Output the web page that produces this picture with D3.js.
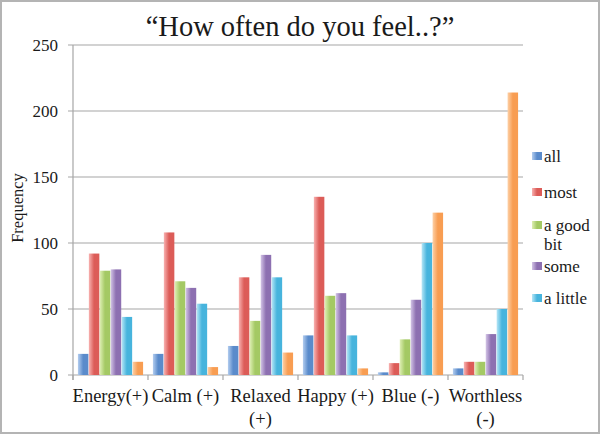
<!DOCTYPE html>
<html>
<head>
<meta charset="utf-8">
<script src="https://cdn.jsdelivr.net/npm/d3@7"></script>
<style>
  body { margin: 0; background: #fff; }
  text { font-family: "Liberation Serif", "Times New Roman", serif; fill: #1a1a1a; }
</style>
</head>
<body>
<svg id="chart" width="600" height="434"></svg>
<script>
// chart data
var categories = [["Energy(+)"], ["Calm (+)"], ["Relaxed", "(+)"], ["Happy (+)"], ["Blue (-)"], ["Worthless", "(-)"]];
var seriesNames = ["all", "most", "a good bit", "some", "a little", "none"];
var allVals    = [16, 16, 22, 30, 2, 5];
var mostVals   = [92, 108, 74, 135, 9, 10];
var goodVals   = [79, 71, 41, 60, 27, 10];
var someVals   = [80, 66, 91, 62, 57, 31];
var littleVals = [44, 54, 74, 30, 100, 50];
var noneVals   = [10, 6, 17, 5, 123, 214];
var yTicks = [0, 50, 100, 150, 200, 250];

var series = [allVals, mostVals, goodVals, someVals, littleVals, noneVals];
var colors = [["#b3cdef", "#5a8bcb"], ["#f8b2b1", "#dc5c58"], ["#deefb4", "#a4c964"],
              ["#d3c4e6", "#8d70b1"], ["#b6e6f6", "#47b4dd"], ["#fdd0a6", "#f89d52"]];

var svg = d3.select("#chart");
var pl = 73, pr = 523, pt = 45, pb = 375;

// frame
svg.append("rect").attr("x", 1).attr("y", 1).attr("width", 598).attr("height", 432)
  .attr("fill", "#fff").attr("stroke", "#b4b4b4").attr("stroke-width", 2);

var defs = svg.append("defs");
colors.forEach(function(c, i) {
  var g = defs.append("linearGradient").attr("id", "grad" + i)
    .attr("x1", "0").attr("x2", "1").attr("y1", "0").attr("y2", "0");
  g.append("stop").attr("offset", "0%").attr("stop-color", c[0]);
  g.append("stop").attr("offset", "50%").attr("stop-color", c[1]);
  g.append("stop").attr("offset", "100%").attr("stop-color", c[1]);
});

var x0 = d3.scaleBand().domain(d3.range(categories.length)).range([pl, pr]).paddingInner(0).paddingOuter(0);
var x1 = d3.scaleBand().domain(d3.range(series.length)).range([0, x0.bandwidth()]).paddingInner(0.04).paddingOuter(0.45);
var y = d3.scaleLinear().domain([0, 250]).range([pb, pt]);

// gridlines
svg.append("g").selectAll("line").data(yTicks).enter().append("line")
  .attr("x1", pl - 5).attr("x2", pr).attr("y1", function(d) { return y(d); }).attr("y2", function(d) { return y(d); })
  .attr("stroke", "#a6a6a6").attr("stroke-width", 1.2);

// y axis line
svg.append("line").attr("x1", pl).attr("x2", pl).attr("y1", pt).attr("y2", pb + 5)
  .attr("stroke", "#a6a6a6").attr("stroke-width", 1.2);

// x ticks
svg.append("g").selectAll("line").data(d3.range(categories.length + 1)).enter().append("line")
  .attr("x1", function(d) { return pl + d * x0.bandwidth(); })
  .attr("x2", function(d) { return pl + d * x0.bandwidth(); })
  .attr("y1", pb).attr("y2", pb + 5)
  .attr("stroke", "#a6a6a6").attr("stroke-width", 1.2);

// bars
series.forEach(function(vals, s) {
  svg.append("g").selectAll("rect").data(vals).enter().append("rect")
    .attr("x", function(d, i) { return x0(i) + x1(s); })
    .attr("width", x1.bandwidth())
    .attr("y", function(d) { return y(d); })
    .attr("height", function(d) { return pb - y(d); })
    .attr("fill", "url(#grad" + s + ")");
});

// y labels
svg.append("g").selectAll("text").data(yTicks).enter().append("text")
  .attr("x", 58).attr("y", function(d) { return y(d) + 6; })
  .attr("text-anchor", "end").attr("font-size", 17).text(function(d) { return d; });

svg.append("text").attr("transform", "translate(23,208) rotate(-90)")
  .attr("text-anchor", "middle").attr("font-size", 16.5).text("Frequency");

// x labels
categories.forEach(function(lines, i) {
  var t = svg.append("text").attr("x", x0(i) + x0.bandwidth() / 2).attr("y", 402)
    .attr("text-anchor", "middle").attr("font-size", 18.5);
  lines.forEach(function(l, k) {
    t.append("tspan").attr("x", x0(i) + x0.bandwidth() / 2).attr("dy", k ? 23 : 0).text(l);
  });
});

// title
svg.append("text").attr("x", 300).attr("y", 36).attr("text-anchor", "middle")
  .attr("font-size", 28.5).text("\u201cHow often do you feel..?\u201d");

// legend (only five entries fit)
var legend = [["all"], ["most"], ["a good", "bit"], ["some"], ["a little"]];
var legY = [162, 198, 231, 272, 304];
legend.forEach(function(lines, i) {
  svg.append("rect").attr("x", 532).attr("y", legY[i] - 10).attr("width", 10).attr("height", 8)
    .attr("fill", "url(#grad" + i + ")");
  var t = svg.append("text").attr("x", 544).attr("y", legY[i]).attr("font-size", 17);
  lines.forEach(function(l, k) {
    t.append("tspan").attr("x", 544).attr("dy", k ? 19 : 0).text(l);
  });
});
</script>
</body>
</html>
